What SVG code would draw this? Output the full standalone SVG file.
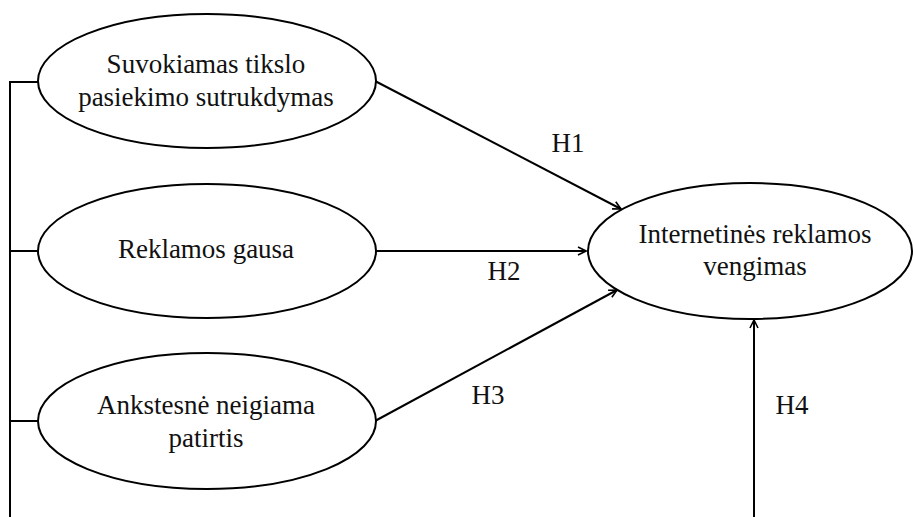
<svg xmlns="http://www.w3.org/2000/svg" width="913" height="517" viewBox="0 0 913 517">
  <defs>
    <marker id="arrow" viewBox="0 0 10 10" refX="9" refY="5" markerWidth="5" markerHeight="5" orient="auto" markerUnits="strokeWidth">
      <path d="M1,1 L9,5 L1,9" fill="none" stroke="#000" stroke-width="1.6"/>
    </marker>
  </defs>
  <style>
    .node ellipse { fill: #fff; stroke: #000; stroke-width: 2; }
    .edge { fill: none; stroke: #000; stroke-width: 2; }
  </style>
  <rect width="913" height="517" fill="#fff"/>

  <g font-family="Liberation Serif, serif" font-size="27" fill="#111" text-anchor="middle">
    <g id="connectors">
      <!-- shared bracket on the left -->
      <path class="edge" d="M10,517 L10,82 L38,82 M10,251 L38,251 M10,421 L38,421"/>
      <line class="edge" x1="375" y1="81" x2="621" y2="209" marker-end="url(#arrow)"/>
      <line class="edge" x1="375" y1="251" x2="586" y2="251" marker-end="url(#arrow)"/>
      <line class="edge" x1="375" y1="421" x2="617" y2="290" marker-end="url(#arrow)"/>
      <line class="edge" x1="754" y1="517" x2="754" y2="320" marker-end="url(#arrow)"/>
      <text x="568" y="152">H1</text>
      <text x="504" y="280">H2</text>
      <text x="488" y="404">H3</text>
      <text x="792" y="414">H4</text>
    </g>

    <g id="n1" class="node">
      <ellipse cx="207" cy="81" rx="169" ry="67"/>
      <text x="206" y="73">Suvokiamas tikslo</text>
      <text x="206" y="106">pasiekimo sutrukdymas</text>
    </g>

    <g id="n2" class="node">
      <ellipse cx="207" cy="251" rx="169" ry="67"/>
      <text x="206" y="258">Reklamos gausa</text>
    </g>

    <g id="n3" class="node">
      <ellipse cx="207" cy="421" rx="169" ry="68"/>
      <text x="206" y="414">Ankstesnė neigiama</text>
      <text x="206" y="447">patirtis</text>
    </g>

    <g id="n4" class="node">
      <ellipse cx="750" cy="251" rx="162" ry="68"/>
      <text x="755" y="243">Internetinės reklamos</text>
      <text x="755" y="275">vengimas</text>
    </g>
  </g>
</svg>
